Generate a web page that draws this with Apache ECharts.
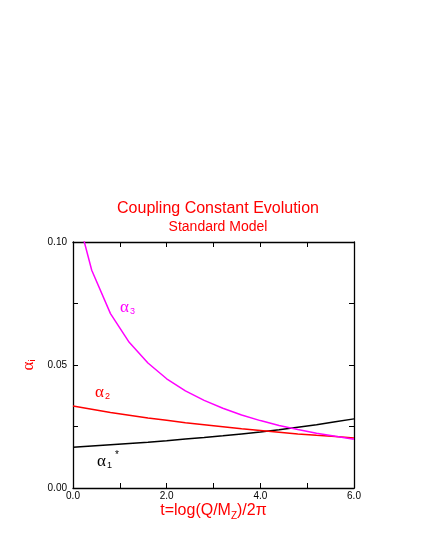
<!DOCTYPE html>
<html>
<head>
<meta charset="utf-8">
<script src="https://cdn.jsdelivr.net/npm/echarts@6/dist/echarts.min.js"></script>
<style>
  html, body { margin: 0; padding: 0; background: #fff; }
  #chart { width: 428px; height: 554px; }
</style>
</head>
<body>
<div id="chart"></div>
<script>
// t = log(Q/M_Z)/2pi
var tValues = [0.0, 0.4, 0.8, 1.2, 1.6, 2.0, 2.4, 2.8, 3.2, 3.6, 4.0, 4.4, 4.8, 5.2, 5.6, 6.0];
// couplings
var alpha1 = [0.0166, 0.0171, 0.0176, 0.0181, 0.0186, 0.0192, 0.0199, 0.0205, 0.0212, 0.0220, 0.0228, 0.0237, 0.0247, 0.0257, 0.0269, 0.0281];
var alpha2 = [0.0333, 0.0320, 0.0307, 0.0296, 0.0285, 0.0275, 0.0265, 0.0257, 0.0249, 0.0241, 0.0234, 0.0227, 0.0220, 0.0214, 0.0209, 0.0203];
var alpha3 = [0.1176, 0.0885, 0.0709, 0.0592, 0.0508, 0.0444, 0.0395, 0.0356, 0.0324, 0.0297, 0.0274, 0.0254, 0.0238, 0.0223, 0.0210, 0.0198];

function pairs(ys) {
  return tValues.map(function (t, i) { return [t, ys[i]]; });
}

var font = "Liberation Sans, Arial, Helvetica, sans-serif";
var serif = "Liberation Serif, Times New Roman, serif";
var chart = echarts.init(document.getElementById("chart"));

// 轴的公共设置
function axisBase(show) {
  return {
    axisLine: { show: true, onZero: false, lineStyle: { color: "#000", width: 1.3 } },
    axisTick: { show: true, inside: true, length: 5, lineStyle: { color: "#000", width: 1 } },
    minorTick: { show: true, splitNumber: 2, length: 5, lineStyle: { color: "#000", width: 1 } },
    splitLine: { show: false },
    axisLabel: { show: show, color: "#000", fontFamily: font, fontSize: 10 }
  };
}

var xMain = Object.assign(axisBase(true), {
  type: "value", min: 0, max: 6, interval: 2, position: "bottom",
  name: "t=log(Q/M{s|Z})/2π",
  nameLocation: "middle", nameGap: 13,
  nameTextStyle: {
    color: "#ff0000", fontFamily: font, fontSize: 16,
    rich: { s: { fontSize: 10, color: "#ff0000", fontFamily: font, padding: [10, 0, 0, 0] } }
  }
});
xMain.axisLabel.margin = 3;
xMain.axisLabel.formatter = function (v) { return v.toFixed(1); };

var xTop = Object.assign(axisBase(false), {
  type: "value", min: 0, max: 6, interval: 2, position: "top"
});

var yMain = Object.assign(axisBase(true), {
  type: "value", min: 0, max: 0.1, interval: 0.05, position: "left",
  name: "α{s|i}", nameLocation: "middle", nameGap: 30, nameRotate: 90,
  nameTextStyle: {
    color: "#ff0000", fontFamily: serif, fontSize: 17,
    rich: { s: { fontSize: 9, color: "#ff0000", fontFamily: font, padding: [8, 0, 0, 0] } }
  }
});
yMain.axisLabel.margin = 6;
yMain.axisLabel.formatter = function (v) { return v.toFixed(2); };

var yRight = Object.assign(axisBase(false), {
  type: "value", min: 0, max: 0.1, interval: 0.05, position: "right"
});

function seriesLine(name, ys, color) {
  return {
    name: name, type: "line", xAxisIndex: 0, yAxisIndex: 0,
    data: pairs(ys), showSymbol: false, smooth: false, clip: true,
    lineStyle: { color: color, width: 1.5 }, z: 3
  };
}

function greekLabel(left, top, sub, sup, color) {
  return {
    type: "text", left: left, top: top,
    style: {
      text: "{a|α}{b|" + sub + "}" + (sup ? "{c|" + sup + "}" : ""),
      rich: {
        a: { fontSize: 17, fontFamily: serif, fill: color, color: color },
        b: { fontSize: 9, fontFamily: font, fill: color, color: color, padding: [8, 0, 0, 1] },
        c: { fontSize: 10, fontFamily: font, fill: color, color: color, padding: [0, 0, 14, 3] }
      }
    }
  };
}

var option = {
  backgroundColor: "#fff",
  animation: false,
  title: [
    {
      text: "Coupling Constant Evolution", left: 213, top: 196, textAlign: "center",
      textStyle: { color: "#ff0000", fontFamily: font, fontSize: 16, fontWeight: "normal" }
    },
    {
      text: "Standard Model", left: 213, top: 215, textAlign: "center",
      textStyle: { color: "#ff0000", fontFamily: font, fontSize: 14, fontWeight: "normal" }
    }
  ],
  grid: { left: 73, right: 74, top: 242, bottom: 66, show: false },
  xAxis: [xMain, xTop],
  yAxis: [yMain, yRight],
  series: [
    seriesLine("α1", alpha1, "#000000"),
    seriesLine("α2", alpha2, "#ff0000"),
    seriesLine("α3", alpha3, "#ff00ff")
  ],
  graphic: [
    greekLabel(120, 299, "3", "", "#ff00ff"),
    greekLabel(95, 384, "2", "", "#ff0000"),
    greekLabel(97, 450, "1", "*", "#000000")
  ]
};

chart.setOption(option);
window.addEventListener("resize", function () { chart.resize(); });
</script>
</body>
</html>
